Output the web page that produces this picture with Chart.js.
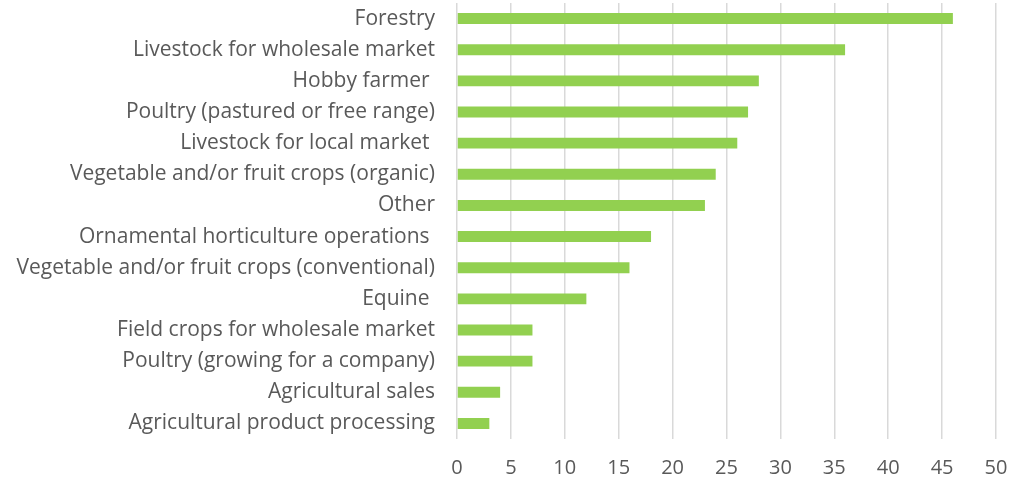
<!DOCTYPE html>
<html>
<head>
<meta charset="utf-8">
<script src="https://cdn.jsdelivr.net/npm/chart.js@4/dist/chart.umd.min.js"></script>
<style>
html,body{margin:0;padding:0;background:#fff;}
#wrap{width:1013px;height:481px;position:relative;}
</style>
</head>
<body>
<div id="wrap"><canvas id="c" width="1013" height="481"></canvas></div>
<script>
const categories = [
  "Forestry",
  "Livestock for wholesale market",
  "Hobby farmer ",
  "Poultry (pastured or free range)",
  "Livestock for local market ",
  "Vegetable and/or fruit crops (organic)",
  "Other",
  "Ornamental horticulture operations ",
  "Vegetable and/or fruit crops (conventional)",
  "Equine ",
  "Field crops for wholesale market",
  "Poultry (growing for a company)",
  "Agricultural sales",
  "Agricultural product processing"
];
const values = [46, 36, 28, 27, 26, 24, 23, 18, 16, 12, 7, 7, 4, 3];
const xTicks = [0, 5, 10, 15, 20, 25, 30, 35, 40, 45, 50];

const FONT = "'Open Sans', 'Liberation Sans', sans-serif";
new Chart(document.getElementById('c'), {
  type: 'bar',
  data: {
    labels: categories,
    datasets: [{
      data: values,
      backgroundColor: '#92D050',
      borderWidth: 0,
      barPercentage: 0.7,
      categoryPercentage: 0.5
    }]
  },
  options: {
    indexAxis: 'y',
    responsive: false,
    animation: false,
    layout: { padding: { top: 3, right: 17, left: 0, bottom: 0 } },
    plugins: { legend: { display: false }, tooltip: { enabled: false } },
    scales: {
      x: {
        min: 0, max: 50,
        afterBuildTicks: (s) => { s.ticks = xTicks.map(v => ({ value: v })); },
        grid: { color: '#D9D9D9', lineWidth: 1.5, drawTicks: false },
        border: { display: false },
        ticks: { color: '#595959', font: { family: FONT, size: 20 }, padding: 17 },
        afterFit: (s) => { s.height = 42; s.paddingLeft = 0; s.paddingRight = 0; }
      },
      y: {
        grid: { display: false },
        border: { display: false },
        ticks: { color: '#595959', font: { family: FONT, size: 21 }, padding: 14, autoSkip: false },
        afterFit: (s) => { s.width = 457; s.paddingTop = 0; s.paddingBottom = 0; }
      }
    }
  }
});
</script>
</body>
</html>
